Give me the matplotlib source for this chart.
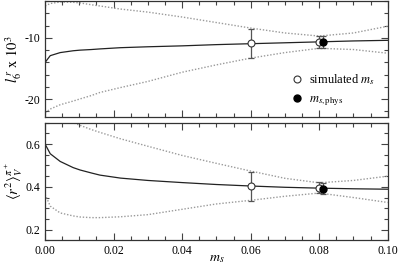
import numpy as np
import matplotlib
matplotlib.use('Agg')
import matplotlib.pyplot as plt
from matplotlib.ticker import MultipleLocator

plt.rcParams['font.family'] = ['Liberation Serif', 'DejaVu Serif']
plt.rcParams['mathtext.fontset'] = 'stix'
plt.rcParams['font.size'] = 8.5
plt.rcParams['axes.unicode_minus'] = False

# strange quark mass grid
ms = [0.0, 0.0015, 0.0044, 0.0082, 0.0102, 0.0135, 0.016, 0.022, 0.03,
      0.04, 0.05, 0.06, 0.07, 0.08, 0.09, 0.1]

# l6^r x 10^3
l6_mid = [-14.0, -12.9, -12.4, -12.1, -12.0, -11.9, -11.8, -11.6, -11.45,
          -11.3, -11.1, -10.95, -10.8, -10.65, -10.5, -10.4]
l6_hi = [-4.8, -4.4, -4.15, -4.2, -4.3, -4.6, -4.8, -5.3, -5.8,
         -6.6, -7.5, -8.4, -9.2, -9.7, -9.2, -8.1]
l6_lo = [-22.2, -21.6, -20.9, -20.3, -19.95, -19.4, -18.9, -18.1, -17.1,
         -15.6, -14.4, -13.3, -12.4, -11.7, -11.9, -12.5]

# <r^2>_V
r2_mid = [0.60, 0.555, 0.519, 0.49, 0.479, 0.465, 0.455, 0.441, 0.43,
          0.42, 0.411, 0.404, 0.398, 0.394, 0.391, 0.389]
r2_hi = [0.76, 0.745, 0.725, 0.70, 0.688, 0.668, 0.655, 0.625, 0.59,
         0.547, 0.51, 0.474, 0.44, 0.419, 0.43, 0.45]
r2_lo = [0.365, 0.31, 0.278, 0.264, 0.259, 0.256, 0.256, 0.26, 0.27,
         0.295, 0.32, 0.337, 0.356, 0.371, 0.35, 0.327]

# data points
sim_ms = [0.06, 0.08]
sim_l6 = [-10.9, -10.7]
sim_l6_err = [2.35, 1.0]
sim_r2 = [0.403, 0.396]
sim_r2_err = [0.068, 0.026]

phys_ms = [0.081]
phys_l6 = [-10.65]
phys_l6_err = [1.0]
phys_r2 = [0.392]
phys_r2_err = [0.025]

fig = plt.figure(figsize=(3.99, 2.68), dpi=100)
ax1 = fig.add_axes([0.113, 0.5634, 0.8587, 0.4326])
ax2 = fig.add_axes([0.113, 0.1034, 0.8587, 0.4386])

err_col = '#555555'
dot_col = '#9a9a9a'

for ax, mid, hi, lo, sy, se, py, pe in [
        (ax1, l6_mid, l6_hi, l6_lo, sim_l6, sim_l6_err, phys_l6, phys_l6_err),
        (ax2, r2_mid, r2_hi, r2_lo, sim_r2, sim_r2_err, phys_r2, phys_r2_err)]:
    ax.plot(ms, mid, color='#222222', lw=0.9)
    ax.plot(ms, hi, color=dot_col, lw=1.0, ls=(0, (1, 1.3)))
    ax.plot(ms, lo, color=dot_col, lw=1.0, ls=(0, (1, 1.3)))
    ax.errorbar(sim_ms, sy, yerr=se, fmt='none', ecolor=err_col,
                elinewidth=0.9, capsize=2.5, capthick=0.9)
    ax.errorbar(phys_ms, py, yerr=pe, fmt='none', ecolor=err_col,
                elinewidth=0.9, capsize=2.5, capthick=0.9)
    ax.plot(sim_ms, sy, 'o', mfc='white', mec='#333333', mew=0.8, ms=5,
            label='simulated $m_s$')
    ax.plot(phys_ms, py, 'o', mfc='black', mec='black', ms=5,
            label=r'$m_{s,\mathrm{phys}}$')
    ax.set_xlim(0, 0.1)
    ax.xaxis.set_major_locator(MultipleLocator(0.02))
    ax.xaxis.set_minor_locator(MultipleLocator(0.005))
    ax.tick_params(which='both', direction='in', top=True, right=True,
                   color='#444444', width=0.8)
    ax.tick_params(which='major', length=5)
    ax.tick_params(which='minor', length=3)
    for s in ax.spines.values():
        s.set_linewidth(0.9)
        s.set_color('#333333')

ax1.set_ylim(-22.9, -4)
ax1.yaxis.set_major_locator(MultipleLocator(10))
ax1.yaxis.set_minor_locator(MultipleLocator(2))
ax1.tick_params(labelbottom=False)
ax1.set_ylabel(r'$l_6^{\,r}\ \mathrm{x}\ 10^3$', fontsize=10.5, labelpad=0)
ax1.legend(loc='lower right', bbox_to_anchor=(0.985, 0.01), frameon=False,
           handletextpad=0.4, handlelength=1.2, borderaxespad=0.2,
           labelspacing=0.5, fontsize=9)

ax2.set_ylim(0.15, 0.7)
ax2.yaxis.set_major_locator(MultipleLocator(0.2))
ax2.yaxis.set_minor_locator(MultipleLocator(0.05))
ax2.xaxis.set_major_formatter(matplotlib.ticker.FormatStrFormatter('%.2f'))
ax2.yaxis.set_major_formatter(matplotlib.ticker.FormatStrFormatter('%.1f'))
ax2.set_ylabel(r'$\langle r^2\rangle_V^{\pi^+}$', fontsize=10.5, labelpad=0)
ax2.set_xlabel('$m_s$', fontsize=10, va='bottom')
ax2.xaxis.set_label_coords(0.5, -0.21)

fig.savefig('out.png', dpi=100)
